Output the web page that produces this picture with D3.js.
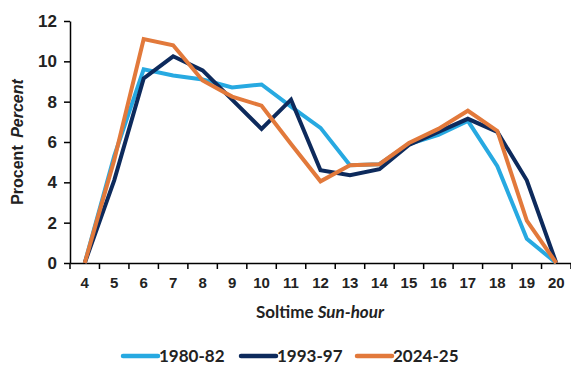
<!DOCTYPE html>
<html><head><meta charset="utf-8">
<script src="https://cdn.jsdelivr.net/npm/d3@7"></script>
<style>
html,body{margin:0;padding:0;background:#fff;}
svg{display:block;}
</style></head>
<body>
<svg id="chart" width="571" height="369"></svg>
<script>
const hours = [4,5,6,7,8,9,10,11,12,13,14,15,16,17,18,19,20];
const s1980 = [0,5.3,9.6,9.3,9.1,8.7,8.85,7.75,6.7,4.85,4.9,5.9,6.35,7.05,4.8,1.2,0];
const s1993 = [0,4.1,9.15,10.25,9.55,8.1,6.65,8.1,4.6,4.35,4.65,5.85,6.5,7.15,6.5,4.1,0];
const s2024 = [0,5.1,11.1,10.8,9.05,8.25,7.8,5.9,4.05,4.85,4.9,5.95,6.65,7.55,6.55,2.1,0];
const seriesNames = ["1980-82","1993-97","2024-25"];
const yTicks = [0,2,4,6,8,10,12];
const colors = ["#27A9E1","#0D2A5C","#E2793B"];

(function(){
const series = [s1980,s1993,s2024].map((v,i)=>({name:seriesNames[i],values:v,color:colors[i]}));

const svg = d3.select("#chart");
const mL=70, mR=571, mT=21, mB=263;
const x = d3.scaleBand().domain(hours).range([mL,mR]).padding(0);
const y = d3.scaleLinear().domain([0,12]).range([mB,mT]);

const tickFont = "'Liberation Sans', Arial, sans-serif";
const titleFont = "Lato, 'Open Sans', sans-serif";

// y axis
const yAxis = svg.append("g").attr("transform",`translate(${mL},0)`)
  .call(d3.axisLeft(y).tickValues(yTicks).tickSize(6).tickPadding(7).tickSizeOuter(0));
yAxis.select(".domain").attr("stroke","#000").attr("stroke-width",1.5);
yAxis.selectAll(".tick line").attr("stroke","#000").attr("stroke-width",1.5);
yAxis.selectAll(".tick text").attr("font-family",tickFont).attr("font-size",17).attr("font-weight","bold").attr("fill","#222");

// x axis
const xAxis = svg.append("g").attr("transform",`translate(0,${mB})`)
  .call(d3.axisBottom(x).tickSize(0).tickPadding(14).tickSizeOuter(0));
xAxis.select(".domain").attr("stroke","#000").attr("stroke-width",1.5);
xAxis.selectAll(".tick text").attr("font-family",tickFont).attr("font-size",15).attr("font-weight","bold").attr("fill","#222");
// boundary ticks
const edges = hours.map(h=>x(h)).concat([x(hours[hours.length-1])+x.bandwidth()]);
svg.append("g").selectAll("line").data(edges).join("line")
  .attr("x1",d=>d).attr("x2",d=>d).attr("y1",mB).attr("y2",mB+6)
  .attr("stroke","#000").attr("stroke-width",1.5);

// lines
const line = d3.line().x((d,i)=>x(hours[i])+x.bandwidth()/2).y(d=>y(d));
svg.append("g").selectAll("path").data(series).join("path")
  .attr("d",d=>line(d.values)).attr("fill","none")
  .attr("stroke",d=>d.color).attr("stroke-width",4).attr("stroke-linejoin","miter");

// axis titles
const yt = svg.append("text").attr("transform","translate(23,142) rotate(-90)")
  .attr("text-anchor","middle").attr("font-family",tickFont).attr("font-size",16).attr("font-weight","bold").attr("fill","#222");
yt.append("tspan").text("Procent ");
yt.append("tspan").attr("font-style","italic").attr("dx",3).text("Percent");

const xt = svg.append("text").attr("x",320).attr("y",318).attr("text-anchor","middle")
  .attr("font-family",titleFont).attr("font-size",17).attr("font-weight","bold").attr("fill","#222");
xt.append("tspan").text("Soltime ");
xt.append("tspan").attr("font-style","italic").text("Sun-hour");

// legend
const legX = [123,241,357];
const leg = svg.append("g").selectAll("g").data(series).join("g")
  .attr("transform",(d,i)=>`translate(${legX[i]},356)`);
leg.append("line").attr("x1",0).attr("x2",35).attr("y1",0).attr("y2",0)
  .attr("stroke",d=>d.color).attr("stroke-width",4.5).attr("stroke-linecap","round");
leg.append("text").attr("x",36).attr("y",6).attr("font-family",titleFont).attr("font-size",17).attr("font-weight","bold").attr("fill","#222").text(d=>d.name);
})();
</script>
</body></html>
